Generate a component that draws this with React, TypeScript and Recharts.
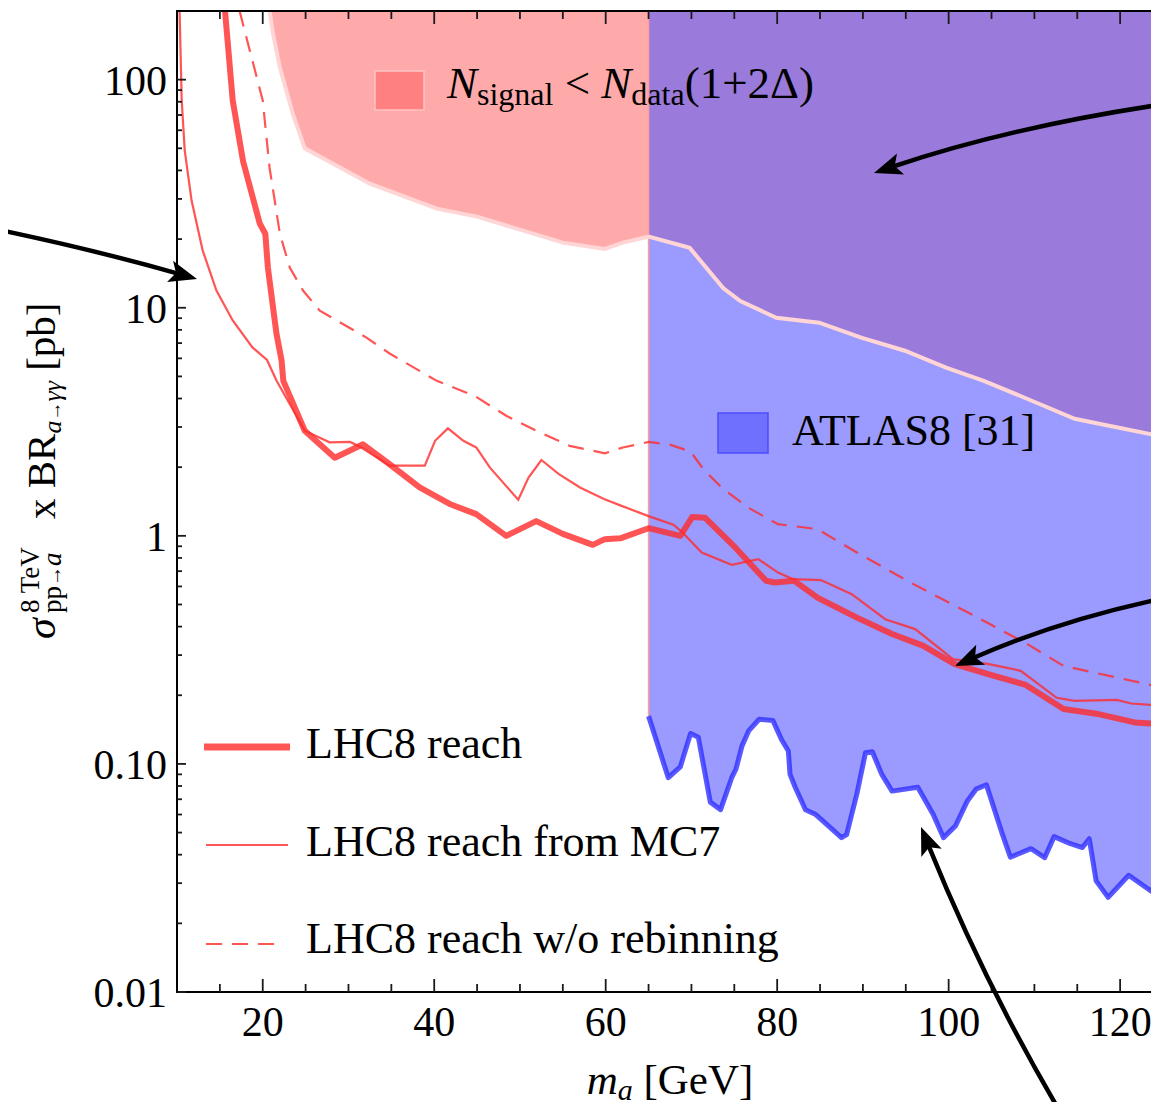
import React from 'react';
import { ComposedChart, Line, Area, XAxis, YAxis } from 'recharts';

const FONT = "'Liberation Serif', 'Times New Roman', serif";

// x range (GeV) and y range (pb)
const X_DOMAIN: [number, number] = [10, 125];
const Y_DOMAIN: [number, number] = [0.01, 200];
const Y_TOP = 200;

const xMajorTicks = [20, 40, 60, 80, 100, 120];
const xMinorTicks = [15, 25, 30, 35, 45, 50, 55, 65, 70, 75, 85, 90, 95, 105, 110, 115, 125];
const yMajorTicks = [0.01, 0.1, 1, 10, 100];
const yMinorTicks = [
  0.02, 0.03, 0.04, 0.05, 0.06, 0.07, 0.08, 0.09,
  0.2, 0.3, 0.4, 0.5, 0.6, 0.7, 0.8, 0.9,
  2, 3, 4, 5, 6, 7, 8, 9,
  20, 30, 40, 50, 60, 70, 80, 90,
];
const yTickLabels: Record<string, string> = { '0.01': '0.01', '0.1': '0.10', '1': '1', '10': '10', '100': '100' };

// LHC8 reach (thick)
const reachLHC8: [number, number][] = [
  [15.6, 200], [16.5, 81], [17.7, 44], [19.65, 23.4], [20.3, 21.1], [20.6, 15.0], [21.6, 7.7],
  [22.2, 5.86], [22.4, 4.78], [24.9, 2.89], [28.4, 2.2], [31.7, 2.52], [34.8, 2.06], [38.3, 1.63],
  [41.8, 1.38], [44.9, 1.245], [48.4, 1.0], [51.9, 1.16], [55.0, 1.02], [58.5, 0.913], [59.9, 0.967],
  [61.7, 0.975], [65.0, 1.08], [68.7, 1.0], [70.1, 1.21], [71.6, 1.2], [75.1, 0.889], [78.7, 0.635],
  [79.7, 0.624], [82.0, 0.635], [84.7, 0.536], [89.3, 0.438], [93.4, 0.371], [97.0, 0.33],
  [100.7, 0.274], [104.7, 0.247], [109.0, 0.222], [113.4, 0.174], [117.6, 0.165], [121.7, 0.152], [125, 0.149],
];

// LHC8 reach from MC7 (thin)
const reachMC7: [number, number][] = [
  [10.3, 200], [10.55, 81], [10.9, 49], [11.7, 29.5], [13.0, 17.8], [14.6, 11.9], [16.5, 8.8], [18.8, 6.7],
  [20.5, 5.9], [21.6, 4.8], [24.9, 2.89], [27.8, 2.57], [30.2, 2.58], [31.5, 2.44], [34.8, 2.03], [38.9, 2.03],
  [40.1, 2.61], [41.6, 2.96], [43.4, 2.61], [44.9, 2.44], [46.5, 1.99], [49.8, 1.44], [51.0, 1.8], [52.5, 2.15],
  [54.5, 1.87], [57.0, 1.63], [59.8, 1.45], [61.7, 1.36], [65.0, 1.22], [67.9, 1.12], [68.9, 1.04], [71.2, 0.845],
  [74.7, 0.746], [77.8, 0.79], [80.1, 0.69], [81.8, 0.646], [85.1, 0.64], [88.7, 0.555], [92.6, 0.431],
  [96.1, 0.39], [100.5, 0.288], [104.7, 0.274], [108.4, 0.256], [112.6, 0.195], [114.7, 0.189], [119.6, 0.191],
  [121.3, 0.184], [125, 0.18],
];

// LHC8 reach w/o rebinning (dashed)
const reachNoRebin: [number, number][] = [
  [17.3, 200], [20.0, 81], [20.8, 41], [22.0, 21.1], [23.15, 15.0], [24.7, 11.9], [26.65, 9.7], [32.1, 7.4],
  [34.8, 6.3], [40.3, 4.78], [44.7, 4.11], [48.4, 3.36], [51.9, 2.89], [55.8, 2.48], [59.9, 2.3], [62.0, 2.44],
  [65.0, 2.58], [67.5, 2.51], [69.9, 2.34], [71.4, 1.96], [73.5, 1.63], [76.6, 1.33], [80.1, 1.125],
  [84.7, 1.07], [89.3, 0.845], [95.9, 0.614], [102.6, 0.454], [109.2, 0.335], [113.4, 0.269], [125, 0.216],
];

// N_signal < N_data(1+2Δ) lower boundary
const signalBound: [number, number][] = [
  [20.8, 200], [21.2, 159], [22.0, 113], [23.5, 71], [24.9, 50], [32.5, 35], [40.3, 27.2], [45.0, 25.1],
  [55.0, 19.3], [59.9, 18.1], [62.0, 19.3], [65.0, 20.5], [69.8, 18.3], [73.7, 12.2], [75.7, 10.7],
  [79.9, 9.04], [84.9, 8.6], [89.8, 7.4], [94.9, 6.48], [99.7, 5.46], [104.1, 4.78], [109.7, 3.91],
  [114.7, 3.26], [125, 2.72],
];

// ATLAS8 [31] limit
const atlas8: [number, number][] = [
  [65.0, 0.162], [67.3, 0.087], [68.7, 0.097], [69.9, 0.136], [70.8, 0.131], [72.2, 0.068], [73.4, 0.063],
  [74.7, 0.087], [75.2, 0.095], [75.9, 0.12], [76.7, 0.14], [77.9, 0.157], [79.5, 0.155], [80.5, 0.128],
  [81.3, 0.114], [81.5, 0.09], [82.1, 0.079], [83.3, 0.063], [84.5, 0.06], [86.1, 0.053], [87.5, 0.0475],
  [88.1, 0.049], [89.3, 0.074], [90.3, 0.112], [91.1, 0.113], [92.2, 0.09], [93.4, 0.076], [96.4, 0.079],
  [98.2, 0.06], [99.4, 0.0475], [100.8, 0.0535], [102.2, 0.069], [103.2, 0.0775], [104.4, 0.081],
  [106.2, 0.05], [107.2, 0.039], [109.6, 0.0425], [111.2, 0.0388], [112.3, 0.048], [114.2, 0.0447],
  [115.6, 0.043], [116.4, 0.047], [117.2, 0.0307], [118.6, 0.026], [121.0, 0.0325], [123.6, 0.0277], [125, 0.033],
];

const ATLAS_START = 65;

const toPts = (arr: [number, number][]) => arr.map(([x, y]) => ({ x, y }));
const pinkRegion = signalBound.filter(([x]) => x <= ATLAS_START).map(([x, y]) => ({ x, r: [y, Y_TOP] }));
const purpleRegion = signalBound.filter(([x]) => x >= ATLAS_START).map(([x, y]) => ({ x, r: [y, Y_TOP] }));
const blueRegion = atlas8.map(([x, y]) => ({ x, r: [y, Y_TOP] }));
const atlasEdge = [{ x: atlas8[0][0], y: atlas8[0][1] }, { x: atlas8[0][0], y: Y_TOP }];

const xAllTicks = [...xMajorTicks, ...xMinorTicks].sort((a, b) => a - b);
const yAllTicks = [...yMajorTicks, ...yMinorTicks].sort((a, b) => a - b);
const isXMajor = (v: number) => xMajorTicks.includes(v);
const isYMajor = (v: number) => yMajorTicks.includes(v);

// layout
const CHART_W = 1170;
const CHART_H = 1110;
const M_TOP = 11;
const M_RIGHT = 7;
const Y_AXIS_W = 177;
const X_AXIS_H = 118;
const PLOT_W = CHART_W - M_RIGHT - Y_AXIS_W;
const PLOT_H = CHART_H - M_TOP - X_AXIS_H;

// frame-tick helpers (same linear / log10 mapping as the chart axes)
const frameX = (v: number) => Y_AXIS_W + ((v - X_DOMAIN[0]) / (X_DOMAIN[1] - X_DOMAIN[0])) * PLOT_W;
const frameY = (v: number) =>
  M_TOP + ((Math.log10(Y_DOMAIN[1]) - Math.log10(v)) / (Math.log10(Y_DOMAIN[1]) - Math.log10(Y_DOMAIN[0]))) * PLOT_H;

const RED = '#FF2A2A';
const TICK_STROKE = '#1a1a1a';
const TICK_W = 1.8;
const X_MAJ = 13;
const X_MIN = 8;
const Y_MAJ = 9;
const Y_MIN = 5;

// Label renderers placed by the library at each tick position
const BottomTick = (p: any) => {
  const v = p.payload.value;
  if (!isXMajor(v)) return <g />;
  return (
    <text x={p.x} y={p.y + 14} dy="0.71em" textAnchor="middle" fontSize={42} fontFamily={FONT} fill="#000">
      {v}
    </text>
  );
};
const LeftTick = (p: any) => {
  const v = p.payload.value;
  if (!isYMajor(v)) return <g />;
  return (
    <text x={p.x - 10} y={p.y} dy="0.355em" textAnchor="end" fontSize={42} fontFamily={FONT} fill="#000">
      {yTickLabels[String(v)] ?? String(v)}
    </text>
  );
};

function FrameTicks() {
  const top = M_TOP;
  const bottom = M_TOP + PLOT_H;
  const left = Y_AXIS_W;
  const right = Y_AXIS_W + PLOT_W;
  return (
    <g stroke={TICK_STROKE} strokeWidth={TICK_W}>
      {xAllTicks.map((v) => {
        const x = frameX(v);
        const len = isXMajor(v) ? X_MAJ : X_MIN;
        return (
          <g key={`x${v}`}>
            <line x1={x} x2={x} y1={bottom} y2={bottom - len} />
            <line x1={x} x2={x} y1={top} y2={top + len} />
          </g>
        );
      })}
      {yAllTicks.map((v) => {
        const y = frameY(v);
        const len = isYMajor(v) ? Y_MAJ : Y_MIN;
        return (
          <g key={`y${v}`}>
            <line x1={left} x2={left + len} y1={y} y2={y} />
            <line x1={right} x2={right - len} y1={y} y2={y} />
          </g>
        );
      })}
    </g>
  );
}

function Arrow({ s, c, t }: { s: [number, number]; c: [number, number]; t: [number, number] }) {
  const dx = t[0] - c[0];
  const dy = t[1] - c[1];
  const L = Math.hypot(dx, dy);
  const ux = dx / L;
  const uy = dy / L;
  const hl = 28;
  const hw = 11;
  const bx = t[0] - ux * hl;
  const by = t[1] - uy * hl;
  const nx = t[0] - ux * hl * 0.78;
  const ny = t[1] - uy * hl * 0.78;
  const head = [
    [t[0], t[1]],
    [bx - uy * hw, by + ux * hw],
    [nx, ny],
    [bx + uy * hw, by - ux * hw],
  ]
    .map((p) => p.join(','))
    .join(' ');
  return (
    <g>
      <path d={`M ${s[0]} ${s[1]} Q ${c[0]} ${c[1]} ${nx + ux * 2} ${ny + uy * 2}`} fill="none" stroke="#000" strokeWidth={4.5} />
      <polygon points={head} fill="#000" />
    </g>
  );
}

const axisCommon = {
  allowDataOverflow: true,
  interval: 0 as const,
  tickLine: false,
  tickSize: 0,
  tickMargin: 0,
  axisLine: { stroke: '#000', strokeWidth: 2 },
};

export default function App() {
  return (
    <div style={{ position: 'relative', width: 1159, height: 1110, overflow: 'hidden', margin: -8, background: '#fff' }}>
      <ComposedChart width={CHART_W} height={CHART_H} margin={{ top: M_TOP, right: M_RIGHT, bottom: 0, left: 0 }}>
        {/* regions */}
        <Area data={blueRegion} dataKey="r" xAxisId="x" yAxisId="y" type="linear" fill="#9A9AFF" fillOpacity={1}
          stroke="none" isAnimationActive={false} />
        <Area data={pinkRegion} dataKey="r" xAxisId="x" yAxisId="y" type="linear" fill="#FFAAAA" fillOpacity={1}
          stroke="none" isAnimationActive={false} />
        <Area data={purpleRegion} dataKey="r" xAxisId="x" yAxisId="y" type="linear" fill="#9A7BDB" fillOpacity={1}
          stroke="none" isAnimationActive={false} />
        <Line data={atlasEdge} dataKey="y" xAxisId="x" yAxisId="y" type="linear" stroke="#FF9C9C" strokeWidth={1.5}
          dot={false} isAnimationActive={false} />
        <Line data={toPts(signalBound)} dataKey="y" xAxisId="x" yAxisId="y" type="linear" stroke="#FFD5D5" strokeWidth={4}
          dot={false} isAnimationActive={false} />
        <Line data={toPts(atlas8)} dataKey="y" xAxisId="x" yAxisId="y" type="linear" stroke="#3030FF" strokeOpacity={0.8}
          strokeWidth={5} strokeLinejoin="round" dot={false} isAnimationActive={false} />
        <Line data={toPts(reachNoRebin)} dataKey="y" xAxisId="x" yAxisId="y" type="linear" stroke={RED} strokeOpacity={0.8}
          strokeWidth={2.2} strokeDasharray="16 10" dot={false} isAnimationActive={false} />
        <Line data={toPts(reachMC7)} dataKey="y" xAxisId="x" yAxisId="y" type="linear" stroke={RED} strokeOpacity={0.8}
          strokeWidth={2.2} dot={false} isAnimationActive={false} />
        <Line data={toPts(reachLHC8)} dataKey="y" xAxisId="x" yAxisId="y" type="linear" stroke={RED} strokeOpacity={0.8}
          strokeWidth={6} strokeLinejoin="round" dot={false} isAnimationActive={false} />

        <XAxis xAxisId="x" type="number" dataKey="x" orientation="bottom" domain={X_DOMAIN} ticks={xAllTicks}
          height={X_AXIS_H} tick={BottomTick} {...axisCommon} />
        <YAxis yAxisId="y" type="number" scale="log" orientation="left" domain={Y_DOMAIN} ticks={yAllTicks}
          width={Y_AXIS_W} tick={LeftTick} {...axisCommon} />
      </ComposedChart>

      <svg width={1159} height={1110} style={{ position: 'absolute', left: 0, top: 0, pointerEvents: 'none' }}
        fontFamily={FONT}>
        {/* frame and inward ticks */}
        <rect x={Y_AXIS_W} y={M_TOP} width={PLOT_W} height={PLOT_H} fill="none" stroke="#000" strokeWidth={2} />
        <FrameTicks />

        {/* region labels */}
        <rect x={375} y={71} width={49} height={39} fill="#FF8080" stroke="#FFC4C4" strokeWidth={1.5} />
        <text x={447} y={98} fontSize={45} fill="#000">
          <tspan fontStyle="italic">N</tspan>
          <tspan fontSize={32} dy={7}>signal</tspan>
          <tspan dy={-7}> &lt; </tspan>
          <tspan fontStyle="italic">N</tspan>
          <tspan fontSize={32} dy={7}>data</tspan>
          <tspan dy={-7}>(1+2Δ)</tspan>
        </text>
        <rect x={718} y={413} width={50} height={40} fill="#7070FF" stroke="#4D4DFF" strokeWidth={1.5} />
        <text x={792} y={445} fontSize={44} fill="#000">ATLAS8 [31]</text>

        {/* series legend */}
        <line x1={204} y1={747} x2={290} y2={747} stroke={RED} strokeOpacity={0.8} strokeWidth={7} />
        <text x={306} y={758} fontSize={44} fill="#000">LHC8 reach</text>
        <line x1={206} y1={845} x2={288} y2={845} stroke={RED} strokeOpacity={0.8} strokeWidth={2.2} />
        <text x={306} y={856} fontSize={44} fill="#000">LHC8 reach from MC7</text>
        <line x1={206} y1={944} x2={277} y2={944} stroke={RED} strokeOpacity={0.8} strokeWidth={2.2} strokeDasharray="16 10" />
        <text x={306} y={953} fontSize={44} fill="#000">LHC8 reach w/o rebinning</text>

        {/* axis titles */}
        <text x={670} y={1094} fontSize={43} fill="#000" textAnchor="middle">
          <tspan fontStyle="italic">m</tspan>
          <tspan fontSize={30} dy={6} fontStyle="italic">a</tspan>
          <tspan dy={-6}> [GeV]</tspan>
        </text>
        <g transform="translate(55 639) rotate(-90)">
          <text x={0} y={0} fontSize={42} fontStyle="italic" fill="#000">σ</text>
          <text x={26} y={-16} fontSize={27} fill="#000">8 TeV</text>
          <text x={26} y={6} fontSize={27} fill="#000">pp<tspan fontSize={20}>→</tspan><tspan fontStyle="italic">a</tspan></text>
          <text x={120} y={0} fontSize={41} fill="#000">
            x BR
            <tspan fontSize={26} dy={6}><tspan fontStyle="italic">a</tspan><tspan fontSize={19}>→</tspan><tspan fontStyle="italic">γγ</tspan></tspan>
            <tspan dy={-6}> [pb]</tspan>
          </text>
        </g>

        {/* annotation arrows */}
        <Arrow s={[-5, 229]} c={[95, 250]} t={[197, 279]} />
        <Arrow s={[1165, 104]} c={[1010, 127]} t={[874, 173]} />
        <Arrow s={[1165, 598]} c={[1060, 620]} t={[955, 666]} />
        <Arrow s={[1062, 1115]} c={[985, 985]} t={[921, 827]} />
      </svg>
    </div>
  );
}
